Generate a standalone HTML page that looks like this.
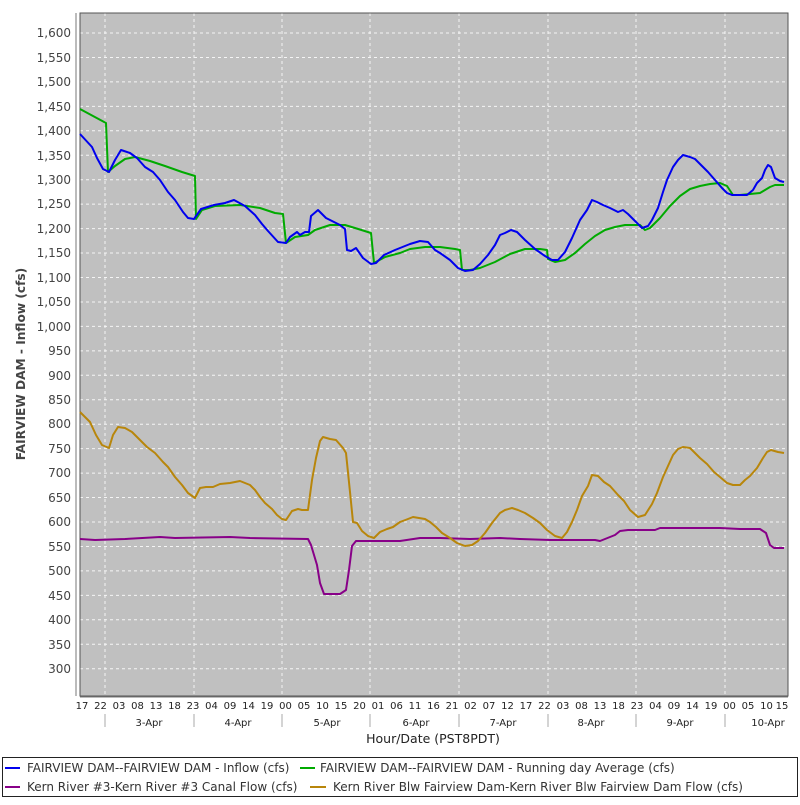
<!DOCTYPE html>
<html><head><meta charset="utf-8"><style>
body{margin:0;background:#fff;}
svg text{font-family:"DejaVu Sans","Liberation Sans",sans-serif;}
</style></head><body>
<svg width="800" height="800" viewBox="0 0 800 800" xmlns="http://www.w3.org/2000/svg">
<rect x="80" y="13" width="708" height="683" fill="#c0c0c0"/>
<g stroke="#fff" stroke-width="1" stroke-dasharray="3,3" opacity="0.85">
<line x1="80" x2="788" y1="33" y2="33"/><line x1="80" x2="788" y1="57.45" y2="57.45"/><line x1="80" x2="788" y1="81.9" y2="81.9"/><line x1="80" x2="788" y1="106.35" y2="106.35"/><line x1="80" x2="788" y1="130.8" y2="130.8"/><line x1="80" x2="788" y1="155.25" y2="155.25"/><line x1="80" x2="788" y1="179.7" y2="179.7"/><line x1="80" x2="788" y1="204.15" y2="204.15"/><line x1="80" x2="788" y1="228.6" y2="228.6"/><line x1="80" x2="788" y1="253.05" y2="253.05"/><line x1="80" x2="788" y1="277.5" y2="277.5"/><line x1="80" x2="788" y1="301.95" y2="301.95"/><line x1="80" x2="788" y1="326.4" y2="326.4"/><line x1="80" x2="788" y1="350.85" y2="350.85"/><line x1="80" x2="788" y1="375.3" y2="375.3"/><line x1="80" x2="788" y1="399.75" y2="399.75"/><line x1="80" x2="788" y1="424.2" y2="424.2"/><line x1="80" x2="788" y1="448.65" y2="448.65"/><line x1="80" x2="788" y1="473.1" y2="473.1"/><line x1="80" x2="788" y1="497.55" y2="497.55"/><line x1="80" x2="788" y1="522" y2="522"/><line x1="80" x2="788" y1="546.45" y2="546.45"/><line x1="80" x2="788" y1="570.9" y2="570.9"/><line x1="80" x2="788" y1="595.35" y2="595.35"/><line x1="80" x2="788" y1="619.8" y2="619.8"/><line x1="80" x2="788" y1="644.25" y2="644.25"/><line x1="80" x2="788" y1="668.7" y2="668.7"/>
<line y1="13" y2="696" x1="105" x2="105"/><line y1="13" y2="696" x1="194" x2="194"/><line y1="13" y2="696" x1="282" x2="282"/><line y1="13" y2="696" x1="370" x2="370"/><line y1="13" y2="696" x1="459" x2="459"/><line y1="13" y2="696" x1="548" x2="548"/><line y1="13" y2="696" x1="636" x2="636"/><line y1="13" y2="696" x1="725" x2="725"/>
</g>
<rect x="80" y="13" width="708" height="683" fill="none" stroke="#555" stroke-width="1"/>
<line x1="76" y1="13" x2="76" y2="696" stroke="#777" stroke-width="1"/>
<line x1="80" y1="697" x2="788" y2="697" stroke="#777" stroke-width="1"/>
<g fill="none" stroke-width="2" stroke-linejoin="round">
<polyline stroke="#00aa00" points="80,109 106,123 108,172 115,166 125,159 135,157 150,161 165,166 182,172 195,176 196,219 202,210 215,206 240,205 260,208 275,213 283,214 286,243 295,237 308,235 315,230 330,225 345,225 355,228 371,233 374,263 385,257 400,253 410,249 425,247 440,247 455,249 460,250 462,270 470,270 480,268 495,262 510,254 525,249 540,249 547,250 548,259 555,262 565,260 575,253 585,244 595,236 605,230 615,227 625,225 635,225 640,225 645,230 650,228 660,218 670,206 680,196 690,189 700,186 710,184 720,183 727,186 733,195 740,195 750,194 760,193 770,187 775,185 784,185"/>
<polyline stroke="#0000ee" points="80,134 92,147 97,158 103,169 109,172 115,160 121,150 130,153 137,158 145,167 153,172 160,180 168,192 175,200 183,212 188,218 194,219 201,209 214,205 225,203 234,200 245,206 255,215 262,224 268,231 278,242 286,243 290,237 297,232 300,235 305,232 309,232 311,216 318,210 326,218 340,225 345,229 347,250 351,251 356,248 363,258 371,264 376,263 384,255 395,250 410,244 420,241 428,242 435,250 440,253 450,260 458,268 465,271 473,270 480,264 488,255 495,245 500,235 505,233 511,230 517,232 525,240 535,249 545,256 552,260 558,260 565,252 572,238 580,220 587,210 592,200 597,202 603,205 610,208 618,212 623,210 628,214 635,221 642,228 648,226 652,220 658,208 663,192 667,180 673,167 678,160 683,155 690,157 695,159 700,164 708,172 715,180 722,188 727,193 732,195 740,195 747,195 753,190 757,183 762,178 765,170 768,165 771,167 775,178 780,181 784,182"/>
<polyline stroke="#880088" points="80,539 95,540 125,539 160,537 175,538 230,537 250,538 308,539 311,545 317,565 320,583 324,594 340,594 346,590 349,570 352,546 356,541 400,541 420,538 440,538 470,539 500,538 520,539 550,540 580,540 595,540 600,541 605,539 615,535 620,531 628,530 655,530 660,528 670,528 700,528 720,528 740,529 760,529 766,533 770,545 774,548 784,548"/>
<polyline stroke="#b8860b" points="80,412 90,422 96,435 102,445 109,448 113,435 118,427 125,428 132,432 140,440 147,447 155,453 163,462 168,467 175,477 182,485 188,493 195,498 200,488 206,487 213,487 220,484 230,483 240,481 250,485 255,490 260,497 265,503 272,509 277,515 282,519 286,520 292,511 298,509 302,510 308,510 312,480 316,458 320,441 323,437 330,439 336,440 343,448 346,453 350,492 353,522 357,523 362,531 368,536 374,538 380,532 387,529 393,527 400,522 408,519 413,517 425,519 430,522 436,527 442,533 450,538 457,543 465,546 472,545 478,541 485,533 492,523 500,513 505,510 512,508 518,510 525,513 533,518 540,523 547,530 555,536 562,538 567,532 572,522 577,510 582,496 588,486 592,475 598,476 604,482 610,486 618,495 624,501 630,510 638,517 645,515 652,504 657,493 663,477 668,466 673,455 678,449 683,447 690,448 695,453 700,458 707,464 714,472 720,477 727,483 733,485 740,485 745,480 750,476 757,468 763,458 767,452 771,450 778,452 784,453"/>
</g>
<g font-size="12" fill="#444" text-anchor="end">
<text x="71" y="37">1,600</text><text x="71" y="62">1,550</text><text x="71" y="86">1,500</text><text x="71" y="111">1,450</text><text x="71" y="135">1,400</text><text x="71" y="160">1,350</text><text x="71" y="184">1,300</text><text x="71" y="208">1,250</text><text x="71" y="233">1,200</text><text x="71" y="257">1,150</text><text x="71" y="282">1,100</text><text x="71" y="306">1,050</text><text x="71" y="331">1,000</text><text x="71" y="355">950</text><text x="71" y="380">900</text><text x="71" y="404">850</text><text x="71" y="428">800</text><text x="71" y="453">750</text><text x="71" y="477">700</text><text x="71" y="502">650</text><text x="71" y="526">600</text><text x="71" y="551">550</text><text x="71" y="575">500</text><text x="71" y="600">450</text><text x="71" y="624">400</text><text x="71" y="649">350</text><text x="71" y="673">300</text>
</g>
<text transform="translate(25,364) rotate(-90)" font-size="12.2" font-weight="bold" fill="#444" text-anchor="middle">FAIRVIEW DAM - Inflow (cfs)</text>
<g font-size="10" fill="#222" text-anchor="middle">
<text x="82" y="709">17</text><text x="100.5" y="709">22</text><text x="119" y="709">03</text><text x="137.5" y="709">08</text><text x="156" y="709">13</text><text x="174.5" y="709">18</text><text x="193" y="709">23</text><text x="211.5" y="709">04</text><text x="230" y="709">09</text><text x="248.5" y="709">14</text><text x="267" y="709">19</text><text x="285.5" y="709">00</text><text x="304" y="709">05</text><text x="322.5" y="709">10</text><text x="341" y="709">15</text><text x="359.5" y="709">20</text><text x="378" y="709">01</text><text x="396.5" y="709">06</text><text x="415" y="709">11</text><text x="433.5" y="709">16</text><text x="452" y="709">21</text><text x="470.5" y="709">02</text><text x="489" y="709">07</text><text x="507.5" y="709">12</text><text x="526" y="709">17</text><text x="544.5" y="709">22</text><text x="563" y="709">03</text><text x="581.5" y="709">08</text><text x="600" y="709">13</text><text x="618.5" y="709">18</text><text x="637" y="709">23</text><text x="655.5" y="709">04</text><text x="674" y="709">09</text><text x="692.5" y="709">14</text><text x="711" y="709">19</text><text x="729.5" y="709">00</text><text x="748" y="709">05</text><text x="766.5" y="709">10</text><text x="782" y="709">15</text>
<text x="149" y="726">3-Apr</text><text x="238" y="726">4-Apr</text><text x="327" y="726">5-Apr</text><text x="416" y="726">6-Apr</text><text x="503" y="726">7-Apr</text><text x="591" y="726">8-Apr</text><text x="680" y="726">9-Apr</text><text x="768" y="726">10-Apr</text>
</g>
<g stroke="#aaa" stroke-width="1">
<line x1="105" y1="714" x2="105" y2="727"/><line x1="194" y1="714" x2="194" y2="727"/><line x1="282" y1="714" x2="282" y2="727"/><line x1="370" y1="714" x2="370" y2="727"/><line x1="459" y1="714" x2="459" y2="727"/><line x1="548" y1="714" x2="548" y2="727"/><line x1="636" y1="714" x2="636" y2="727"/><line x1="725" y1="714" x2="725" y2="727"/>
</g>
<text x="433" y="743" font-size="12.5" fill="#222" text-anchor="middle">Hour/Date (PST8PDT)</text>
<rect x="2.5" y="757.5" width="795" height="39" fill="#fff" stroke="#222" stroke-width="1"/>
<g stroke-width="2"><line x1="5" x2="20" y1="768" y2="768" stroke="#0000ee"/><line x1="300" x2="315" y1="768" y2="768" stroke="#00aa00"/><line x1="5" x2="20" y1="787" y2="787" stroke="#880088"/><line x1="310" x2="326" y1="787" y2="787" stroke="#b8860b"/></g>
<g font-size="12" fill="#333" xml:space="preserve">
<text x="27" y="772">FAIRVIEW DAM--FAIRVIEW DAM - Inflow  (cfs)</text>
<text x="320" y="772">FAIRVIEW DAM--FAIRVIEW DAM - Running day Average  (cfs)</text>
<text x="27" y="791">Kern River #3-Kern River #3 Canal Flow  (cfs)</text>
<text x="333" y="791">Kern River Blw Fairview Dam-Kern River Blw Fairview Dam Flow  (cfs)</text>
</g>
</svg>
</body></html>
